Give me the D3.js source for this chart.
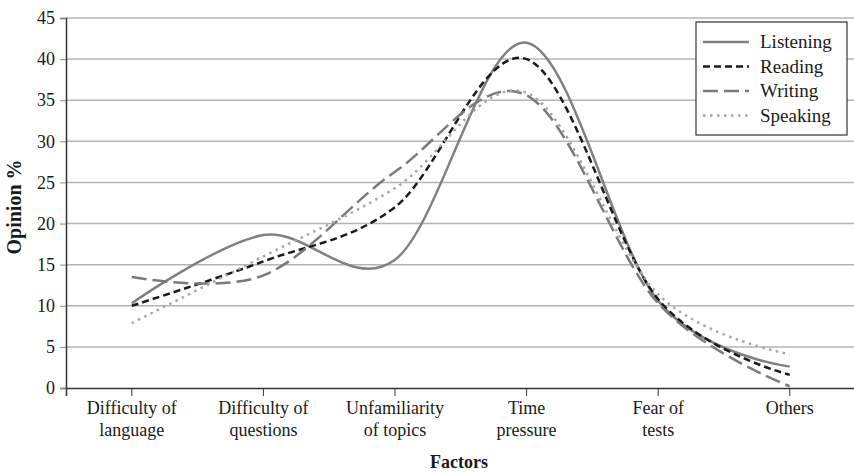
<!DOCTYPE html>
<html>
  <head>
    <meta charset="utf-8" />
    <title>Opinion by factor</title>
    <script src="https://cdnjs.cloudflare.com/ajax/libs/d3/7.8.5/d3.min.js"></script>
    <style>
      body { margin: 0; background: #fff; }
      text { font-family: "Liberation Serif", "Times New Roman", serif; fill: #1a1a1a; }
    </style>
  </head>
  <body>
    <div id="chart"></div>
    <script>
      // categories (two-line labels)
      const factors = [
        ["Difficulty of", "language"],
        ["Difficulty of", "questions"],
        ["Unfamiliarity", "of topics"],
        ["Time", "pressure"],
        ["Fear of", "tests"],
        ["Others"]
      ];

      // opinion % per skill
      const listening = [10.3, 18.6, 15.6, 42, 10.6, 2.6];
      const reading = [10.0, 15.4, 22, 40, 10.8, 1.6];
      const writing = [13.5, 13.7, 26.3, 35.6, 10.3, 0.2];
      const speaking = [7.9, 16, 24.3, 35.9, 11.4, 4.1];

      const yTicks = [0, 5, 10, 15, 20, 25, 30, 35, 40, 45];

      const series = [
        { name: "Listening", values: listening, color: "#808080", dash: null },
        { name: "Reading", values: reading, color: "#1a1a1a", dash: "7,4" },
        { name: "Writing", values: writing, color: "#7a7a7a", dash: "15,6" },
        { name: "Speaking", values: speaking, color: "#a6a6a6", dash: "2.5,4.5" }
      ];

      const width = 854, height = 474;
      const plotLeft = 66, plotTop = 18, plotBottom = 388;

      const svg = d3.select("#chart").append("svg")
        .attr("width", width)
        .attr("height", height);

      const x = d3.scaleBand()
        .domain(d3.range(factors.length))
        .range([plotLeft, plotLeft + 131.6 * factors.length]);

      const y = d3.scaleLinear().domain([0, 45]).range([plotBottom, plotTop]);

      // gridlines
      svg.append("g")
        .selectAll("line")
        .data(yTicks.filter(d => d > 0))
        .join("line")
        .attr("x1", plotLeft).attr("x2", width)
        .attr("y1", d => y(d)).attr("y2", d => y(d))
        .attr("stroke", "#b4b4b4")
        .attr("stroke-width", 1.5);

      // y axis
      const yAxis = svg.append("g")
        .attr("transform", `translate(${plotLeft},0)`)
        .call(d3.axisLeft(y).tickValues(yTicks).tickSize(6).tickPadding(5));
      yAxis.select(".domain").attr("stroke", "#333").attr("stroke-width", 1.5);
      yAxis.selectAll(".tick line").attr("stroke", "#888");
      yAxis.selectAll(".tick text")
        .attr("font-size", 18)
        .style("font-family", "Liberation Serif, serif")
        .attr("fill", "#1a1a1a");

      // x axis
      const xAxis = svg.append("g")
        .attr("transform", `translate(0,${plotBottom})`)
        .call(d3.axisBottom(x).tickSize(8).tickFormat(""));
      xAxis.select(".domain").attr("stroke", "#333").attr("stroke-width", 1.5);
      xAxis.selectAll(".tick line").attr("stroke", "#333");

      const labels = svg.append("g")
        .selectAll("text")
        .data(factors)
        .join("text")
        .attr("x", (d, i) => x(i) + x.bandwidth() / 2)
        .attr("y", 414)
        .attr("text-anchor", "middle")
        .attr("font-size", 18);
      labels.selectAll("tspan")
        .data(d => d)
        .join("tspan")
        .attr("x", function () { return d3.select(this.parentNode).attr("x"); })
        .attr("dy", (d, i) => i === 0 ? 0 : 22)
        .text(d => d);

      // axis titles
      svg.append("text")
        .attr("x", 459).attr("y", 468)
        .attr("text-anchor", "middle")
        .attr("font-size", 18)
        .attr("font-weight", "bold")
        .text("Factors");

      svg.append("text")
        .attr("transform", "translate(21,207) rotate(-90)")
        .attr("text-anchor", "middle")
        .attr("font-size", 20)
        .attr("font-weight", "bold")
        .text("Opinion %");

      // smoothed lines (Excel-like Catmull-Rom)
      const line = d3.line()
        .x((d, i) => x(i) + x.bandwidth() / 2)
        .y(d => y(d))
        .curve(d3.curveCardinal.tension(0));

      svg.append("g")
        .selectAll("path")
        .data(series)
        .join("path")
        .attr("d", d => line(d.values))
        .attr("fill", "none")
        .attr("stroke", d => d.color)
        .attr("stroke-width", 2.5)
        .attr("stroke-dasharray", d => d.dash);

      // legend
      const lg = svg.append("g").attr("transform", "translate(696,22)");
      lg.append("rect")
        .attr("width", 151).attr("height", 113)
        .attr("fill", "#fff")
        .attr("stroke", "#333")
        .attr("stroke-width", 1.2);
      const items = lg.selectAll("g")
        .data(series)
        .join("g")
        .attr("transform", (d, i) => `translate(0,${20 + i * 24.5})`);
      items.append("line")
        .attr("x1", 7).attr("x2", 53)
        .attr("stroke", d => d.color)
        .attr("stroke-width", 2.5)
        .attr("stroke-dasharray", d => d.dash);
      items.append("text")
        .attr("x", 64).attr("y", 6)
        .attr("font-size", 19)
        .text(d => d.name);
    </script>
  </body>
</html>
